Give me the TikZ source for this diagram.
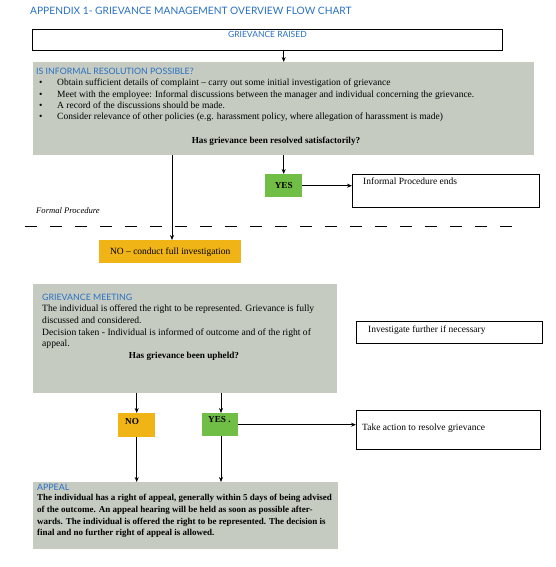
\documentclass[tikz,border=0pt]{standalone}
\usepackage{fontspec}
\setmainfont{Liberation Serif}
\newfontfamily\headfont{Lato}
\usetikzlibrary{arrows.meta,calc}
\definecolor{hblue}{RGB}{40,112,195}
\definecolor{boxgray}{RGB}{197,203,193}
\definecolor{yesgreen}{RGB}{112,190,70}
\definecolor{noorange}{RGB}{240,180,22}
\tikzset{
  frame/.style={draw=black, line width=0.8pt, fill=white, anchor=north west, inner sep=0pt},
  graybox/.style={fill=boxgray, anchor=north west, inner sep=0pt},
  flagbox/.style={anchor=north west, inner sep=0pt},
  txt/.style={anchor=north west, inner sep=0pt, font=\fontsize{9.5}{11.2}\selectfont, align=left},
  boldtxt/.style={txt, font=\bfseries\fontsize{9.2}{11}\selectfont},
  head/.style={anchor=north west, inner sep=0pt, font=\headfont\fontsize{8.8}{10}\selectfont, text=hblue},
  conn/.style={line width=0.7pt, -{Stealth[length=5pt,width=4pt]}},
}
\begin{document}
\begin{tikzpicture}[x=1pt,y=-1pt]
\useasboundingbox (0,0) rectangle (555,567);
% title
\node[head, font=\headfont\fontsize{10.2}{12}\selectfont] (title) at (30,7) {APPENDIX 1- GRIEVANCE MANAGEMENT OVERVIEW FLOW CHART};
% grievance raised
\node[frame, minimum width=470pt, minimum height=21pt] (raised) at (32,29) {};
\node[head, anchor=north, font=\headfont\fontsize{8.5}{10}\selectfont] (raisedt) at ($(raised.north)+(0,2.5)$) {GRIEVANCE RAISED};
% informal box
\node[graybox, minimum width=501pt, minimum height=93pt] (informal) at (33,62) {};
\node[head] (informalt) at (36,67.5) {IS INFORMAL RESOLUTION POSSIBLE?};
\node[txt] (bullets) at (39,79) {%
\makebox[18pt][l]{\textbullet}Obtain sufficient details of complaint -- carry out some initial investigation of grievance\\
\makebox[18pt][l]{\textbullet}Meet with the employee: Informal discussions between the manager and individual concerning the grievance.\\
\makebox[18pt][l]{\textbullet}A record of the discussions should be made.\\
\makebox[18pt][l]{\textbullet}Consider relevance of other policies (e.g. harassment policy, where allegation of harassment is made)};
\node[boldtxt, anchor=north] (resolvedq) at (276,137) {Has grievance been resolved satisfactorily?};
% yes 1
\node[flagbox, fill=yesgreen, minimum width=37pt, minimum height=23pt] (yes1) at (265,174) {};
\node[boldtxt, anchor=center] (yes1t) at (yes1.center) {YES};
\node[frame, minimum width=187pt, minimum height=33pt] (informalend) at (352,174) {};
\node[txt] (informalendt) at (363,178) {Informal Procedure ends};
% formal procedure
\node[txt, font=\itshape\fontsize{8.6}{10}\selectfont] (formal) at (36,207) {Formal Procedure};
\coordinate (dashL) at (25,226);
\coordinate (dashR) at (518,226);
\draw[line width=0.7pt, dash pattern=on 11.5pt off 13.5pt] (dashL) -- (dashR);
% no 1
\node[flagbox, fill=noorange, minimum width=142pt, minimum height=23pt] (no1) at (99,240) {};
\node[txt, anchor=center] (no1t) at (no1.center) {NO -- conduct full investigation};
% grievance meeting
\node[graybox, minimum width=304pt, minimum height=109pt] (meeting) at (33,284) {};
\node[head] (meetingt) at (42,293.5) {GRIEVANCE MEETING};
\node[txt, font=\fontsize{9.6}{11.8}\selectfont] (meetingtxt) at (42,304.5) {%
The individual is offered the right to be represented. Grievance is fully\\
discussed and considered.\\
Decision taken - Individual is informed of outcome and of the right of\\
appeal.};
\node[boldtxt, anchor=north] (upheldq) at (184,352) {Has grievance been upheld?};
% investigate further
\node[frame, minimum width=186pt, minimum height=22pt] (invest) at (356,321) {};
\node[txt] (investt) at (368,325.5) {Investigate further if necessary};
% no 2 / yes 2
\node[flagbox, fill=noorange, minimum width=37pt, minimum height=24pt] (no2) at (118,413) {};
\node[boldtxt] (no2t) at (125,418) {NO};
\node[flagbox, fill=yesgreen, minimum width=36pt, minimum height=23pt] (yes2) at (202,413) {};
\node[boldtxt] (yes2t) at (208,416.5) {YES .};
\node[frame, minimum width=184pt, minimum height=39pt] (action) at (356,410) {};
\node[txt] (actiont) at (362,424) {Take action to resolve grievance};
% appeal
\node[graybox, minimum width=305pt, minimum height=67pt] (appeal) at (33,482) {};
\node[head] (appealt) at (37,483.5) {APPEAL};
\node[txt, font=\bfseries\fontsize{9}{11.8}\selectfont] (appealtxt) at (37,494) {%
The individual has a right of appeal, generally within 5 days of being advised\\
of the outcome. An appeal hearing will be held as soon as possible after-\\
wards. The individual is offered the right to be represented. The decision is\\
final and no further right of appeal is allowed.};
% connectors
\draw[conn] (raised.south -| yes1.north) -- (informal.north -| yes1.north);
\draw[conn] (informal.south -| yes1.north) -- (yes1.north);
\draw[conn] (informal.south -| 172,0) -- (no1.north -| 172,0);
\draw[conn] (yes1.east) -- (informalend.west |- yes1.east);
\draw[conn] (meeting.south -| no2.north) -- (no2.north);
\draw[conn] (meeting.south -| 221,0) -- (yes2.north -| 221,0);
\draw[conn] (yes2.east) -- (action.west |- yes2.east);
\draw[conn] (no2.south) -- (appeal.north -| no2.south);
\draw[conn] (yes2.south -| 221,0) -- (appeal.north -| 221,0);
\end{tikzpicture}
\end{document}
